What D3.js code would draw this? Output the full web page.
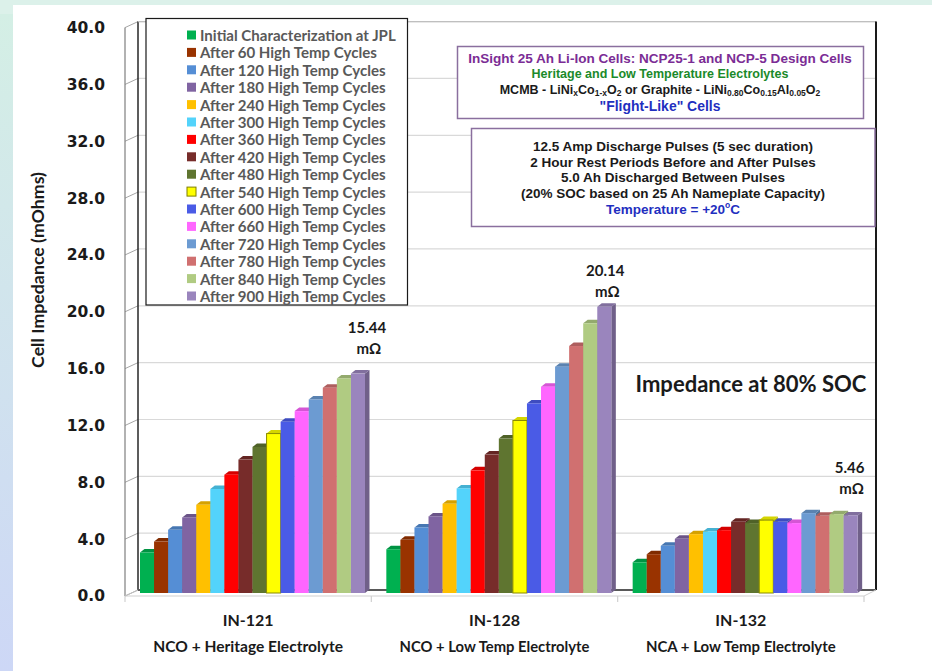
<!DOCTYPE html>
<html>
<head>
<meta charset="utf-8">
<script src="https://cdn.jsdelivr.net/npm/d3@7"></script>
<style>
  body { margin: 0; background: #fff; }
  svg { display: block; }
</style>
</head>
<body>
<script>
// data
var categories = ["IN-121", "IN-128", "IN-132"];
var subtitles = ["NCO + Heritage Electrolyte", "NCO + Low Temp Electrolyte", "NCA + Low Temp Electrolyte"];
var series = ["Initial Characterization at JPL", "After 60 High Temp Cycles", "After 120 High Temp Cycles",
  "After 180 High Temp Cycles", "After 240 High Temp Cycles", "After 300 High Temp Cycles",
  "After 360 High Temp Cycles", "After 420 High Temp Cycles", "After 480 High Temp Cycles",
  "After 540 High Temp Cycles", "After 600 High Temp Cycles", "After 660 High Temp Cycles",
  "After 720 High Temp Cycles", "After 780 High Temp Cycles", "After 840 High Temp Cycles",
  "After 900 High Temp Cycles"];
var in121 = [2.85, 3.62, 4.45, 5.32, 6.21, 7.32, 8.33, 9.39, 10.28, 11.22, 12.05, 12.8, 13.62, 14.45, 15.1, 15.44];
var in128 = [3.08, 3.74, 4.61, 5.39, 6.28, 7.36, 8.63, 9.74, 10.87, 12.14, 13.34, 14.52, 15.93, 17.38, 18.98, 20.14];
var in132 = [2.16, 2.73, 3.32, 3.81, 4.14, 4.33, 4.42, 5.01, 4.92, 5.13, 5.01, 4.92, 5.62, 5.43, 5.55, 5.46];
var peakLabels = ["15.44", "20.14", "5.46"];
var yTicks = [0, 4, 8, 12, 16, 20, 24, 28, 32, 36, 40];

var colors = ["#00b050", "#993300", "#558ed5", "#8064a2", "#ffc000", "#53d3fb", "#ff0000", "#772c2a",
  "#5f7530", "#ffff00", "#4a5be6", "#ff66ff", "#6c9bd2", "#d07070", "#b0cb82", "#9a85bd"];

var values = [in121, in128, in132];

var W = 932, H = 671;
var svg = d3.select("body").append("svg").attr("width", W).attr("height", H);

// background strips
var defs = svg.append("defs");
var grad = defs.append("linearGradient").attr("id", "strip").attr("x1", 0).attr("y1", 0).attr("x2", 0).attr("y2", 1);
grad.append("stop").attr("offset", "0%").attr("stop-color", "#d4efe5");
grad.append("stop").attr("offset", "100%").attr("stop-color", "#cdd7f6");
svg.append("rect").attr("width", W).attr("height", H).attr("fill", "#dcf1ea");
svg.append("rect").attr("x", 0).attr("y", 14).attr("width", 13).attr("height", H - 14).attr("fill", "url(#strip)");
svg.append("rect").attr("x", 13).attr("y", 5).attr("width", W - 13).attr("height", H - 5).attr("fill", "#fff");

// 3D planes: front (axis labels), bar plane, back wall
var yFront = d3.scaleLinear().domain([0, 40]).range([596, 27.6]);
var yBar = d3.scaleLinear().domain([0, 40]).range([593, 24.6]);
var yBack = d3.scaleLinear().domain([0, 40]).range([590, 21.6]);
var frontL = 125, frontR = 864, backL = 138, backR = 876;

var xFront = d3.scaleBand().domain(categories).range([frontL, frontR]);
var xBar = d3.scaleBand().domain(categories).range([131.5, 870.5]);
var xInner = d3.scaleBand().domain(series).range([8.5, 8.5 + 225]);
var bw = xInner.bandwidth();
var ddx = 4.5, ddy = -3.5; // bar depth

// back wall gridlines
svg.append("g").selectAll("line").data(yTicks.slice(1)).join("line")
  .attr("x1", backL).attr("x2", backR)
  .attr("y1", d => yBack(d)).attr("y2", d => yBack(d))
  .attr("stroke", "#d9d9d9").attr("stroke-width", 1.2);
// left wall gridlines
svg.append("g").selectAll("line").data(yTicks).join("line")
  .attr("x1", frontL).attr("x2", backL)
  .attr("y1", d => yFront(d)).attr("y2", d => yBack(d))
  .attr("stroke", "#a6a6a6").attr("stroke-width", 1);

// walls outline
svg.append("line").attr("x1", frontL).attr("x2", frontL).attr("y1", yFront(40)).attr("y2", yFront(0))
  .attr("stroke", "#7f7f7f").attr("stroke-width", 1.2);
svg.append("line").attr("x1", backL).attr("x2", backL).attr("y1", yBack(40)).attr("y2", yBack(0))
  .attr("stroke", "#262626").attr("stroke-width", 1.5);
svg.append("line").attr("x1", backL).attr("x2", backR).attr("y1", yBack(40)).attr("y2", yBack(40))
  .attr("stroke", "#bfbfbf").attr("stroke-width", 1.2);
svg.append("line").attr("x1", backR).attr("x2", backR).attr("y1", yBack(40)).attr("y2", yBack(0))
  .attr("stroke", "#1a1a1a").attr("stroke-width", 2);
svg.append("line").attr("x1", backL).attr("x2", backR).attr("y1", yBack(0)).attr("y2", yBack(0))
  .attr("stroke", "#595959").attr("stroke-width", 2);
svg.append("line").attr("x1", frontR).attr("x2", backR).attr("y1", yFront(0)).attr("y2", yBack(0))
  .attr("stroke", "#d0d0d0").attr("stroke-width", 1);

// bars
var groups = svg.append("g").selectAll("g").data(categories).join("g")
  .attr("transform", d => "translate(" + xBar(d) + ",0)");
groups.each(function(cat, ci) {
  var g = d3.select(this);
  var vals = values[ci];
  var bars = g.selectAll("g").data(vals).join("g");
  bars.each(function(v, i) {
    var b = d3.select(this);
    var x0 = xInner(series[i]), x1 = x0 + bw, yt = yBar(v), y0 = yBar(0);
    var c = d3.color(colors[i]);
    b.append("polygon")
      .attr("points", [[x1, yt], [x1 + ddx, yt + ddy], [x1 + ddx, y0 + ddy], [x1, y0]].join(" "))
      .attr("fill", c.darker(0.9));
    b.append("polygon")
      .attr("points", [[x0, yt], [x0 + ddx, yt + ddy], [x1 + ddx, yt + ddy], [x1, yt]].join(" "))
      .attr("fill", c.darker(0.5));
    b.append("rect")
      .attr("x", x0).attr("y", yt).attr("width", bw).attr("height", y0 - yt)
      .attr("fill", colors[i])
      .attr("stroke", i == 9 ? "#8a8a00" : "none").attr("stroke-width", 1);
  });
});

// front floor edge with ticks
svg.append("line").attr("x1", frontL).attr("x2", frontR).attr("y1", yFront(0)).attr("y2", yFront(0))
  .attr("stroke", "#d0d0d0").attr("stroke-width", 1.2);
svg.append("line").attr("x1", frontL).attr("x2", backL).attr("y1", yFront(0)).attr("y2", yBack(0))
  .attr("stroke", "#bfbfbf").attr("stroke-width", 1);
svg.append("g").selectAll("line").data(categories.map(d => xFront(d)).concat([frontR])).join("line")
  .attr("x1", d => d).attr("x2", d => d).attr("y1", yFront(0)).attr("y2", yFront(0) + 6)
  .attr("stroke", "#d0d0d0").attr("stroke-width", 1.2);

// fit font size to a target width
function fit(sel, w) {
  sel.each(function() {
    var t = d3.select(this);
    var fs = parseFloat(t.style("font-size"));
    var len = this.getComputedTextLength();
    t.style("font-size", (fs * w / len) + "px");
  });
}

// y axis labels
var yAxis = d3.axisLeft(yFront).tickValues(yTicks).tickFormat(d3.format(".1f")).tickSize(0).tickPadding(0);
var gy = svg.append("g").attr("transform", "translate(105,0)").call(yAxis);
gy.select(".domain").remove();
gy.selectAll("text")
  .style("font-family", "'DejaVu Sans', Verdana, sans-serif")
  .style("font-weight", "bold").style("font-size", "15.5px").attr("fill", "#1a1a1a");

svg.append("text")
  .attr("transform", "translate(37,270) rotate(-90)")
  .attr("text-anchor", "middle").attr("dominant-baseline", "central")
  .style("font-family", "Lato, 'Open Sans', sans-serif").style("font-weight", "bold").style("font-size", "19px")
  .attr("fill", "#1a1a1a")
  .text("Cell Impedance (mOhms)")
  .call(fit, 196);

// category labels
svg.append("g").selectAll("text").data(categories).join("text")
  .attr("x", d => xFront(d) + xFront.bandwidth() / 2).attr("y", 619)
  .attr("text-anchor", "middle").attr("dominant-baseline", "central")
  .style("font-family", "Lato, 'Open Sans', sans-serif").style("font-weight", "bold").style("font-size", "17px")
  .attr("fill", "#1a1a1a").text(d => d)
  .call(fit, 51);
svg.append("g").selectAll("text").data(subtitles).join("text")
  .attr("x", (d, i) => xFront(categories[i]) + xFront.bandwidth() / 2).attr("y", 646)
  .attr("text-anchor", "middle").attr("dominant-baseline", "central")
  .style("font-family", "Lato, 'Open Sans', sans-serif").style("font-weight", "bold").style("font-size", "13px")
  .attr("fill", "#1a1a1a").text(d => d)
  .call(fit, 190);

// legend
var legend = svg.append("g");
legend.append("rect").attr("x", 146).attr("y", 18.5).attr("width", 261.5).attr("height", 286.5)
  .attr("fill", "#fff").attr("stroke", "#1a1a1a").attr("stroke-width", 1.2);
var rows = legend.selectAll("g").data(series).join("g")
  .attr("transform", (d, i) => "translate(0," + (35 + i * 17.4) + ")");
rows.append("rect").attr("x", 187).attr("y", -4.5).attr("width", 9).attr("height", 9)
  .attr("fill", (d, i) => colors[i])
  .attr("stroke", (d, i) => i == 9 ? "#7f7f00" : "none");
var ltext = rows.append("text").attr("x", 200).attr("dominant-baseline", "central")
  .style("font-family", "Lato, 'Open Sans', sans-serif").style("font-weight", "bold").style("font-size", "14px")
  .attr("fill", "#595959").text(d => d);
fit(d3.select(ltext.nodes()[0]), 196);
ltext.style("font-size", d3.select(ltext.nodes()[0]).style("font-size"));

// info box 1
svg.append("rect").attr("x", 457.5).attr("y", 46.5).attr("width", 406).attr("height", 72)
  .attr("fill", "#fff").attr("stroke", "#8a6f9e").attr("stroke-width", 1.5);
var arial = "'Liberation Sans', Arial, sans-serif";
function infoLine(x, y, color) {
  return svg.append("text").attr("x", x).attr("y", y)
    .attr("text-anchor", "middle").attr("dominant-baseline", "central")
    .style("font-family", arial).style("font-weight", "bold").style("font-size", "12px")
    .attr("fill", color);
}
infoLine(660, 58.5, "#7b2c95").text("InSight 25 Ah Li-Ion Cells: NCP25-1 and NCP-5 Design Cells").call(fit, 384);
infoLine(660, 74, "#1a8a2a").text("Heritage and Low Temperature Electrolytes").call(fit, 257);
var chem = infoLine(660, 90, "#1a1a1a").style("font-size", "12.5px");
[["MCMB - LiNi", 0], ["x", 1], ["Co", 0], ["1-x", 1], ["O", 0], ["2", 1], [" or Graphite - LiNi", 0], ["0.80", 1],
 ["Co", 0], ["0.15", 1], ["Al", 0], ["0.05", 1], ["O", 0], ["2", 1]].forEach(function(p, i, arr) {
  var t = chem.append("tspan").text(p[0]);
  if (p[1]) t.style("font-size", "8.5px").attr("dy", 3);
  else if (i > 0 && arr[i - 1][1]) t.attr("dy", -3);
});
infoLine(660, 106, "#1f2fc0").text("\"Flight-Like\"  Cells").call(fit, 121);

// info box 2
svg.append("rect").attr("x", 471.5).attr("y", 128.5).attr("width", 403.5).attr("height", 98)
  .attr("fill", "#fff").attr("stroke", "#8a6f9e").attr("stroke-width", 1.5);
var box2 = ["12.5 Amp Discharge Pulses (5 sec duration)", "2 Hour Rest Periods Before and After Pulses",
  "5.0 Ah Discharged Between Pulses", "(20% SOC based on 25 Ah Nameplate Capacity)"];
box2.forEach(function(s, i) {
  infoLine(673, 146.5 + i * 15.5, "#1a1a1a").text(s).style("font-size", "13.5px");
});
var temp = infoLine(673, 208.5, "#1f2fc0").style("font-size", "13.5px");
temp.append("tspan").text("Temperature = +20");
temp.append("tspan").text("o").style("font-size", "8.5px").attr("dy", -4);
temp.append("tspan").text("C").attr("dy", 4);

// headline text
svg.append("text").attr("x", 751).attr("y", 383)
  .attr("text-anchor", "middle").attr("dominant-baseline", "central")
  .style("font-family", "Lato, 'Open Sans', sans-serif").style("font-weight", "bold").style("font-size", "22px")
  .attr("fill", "#1a1a1a").text("Impedance at 80% SOC").call(fit, 231);

// peak value annotations
var peakOff = [{dx: 9, dy: -47}, {dx: 1, dy: -37}, {dx: -1, dy: -48}];
categories.forEach(function(cat, ci) {
  var last = series.length - 1;
  var x = xBar(cat) + xInner(series[last]) + bw / 2 + peakOff[ci].dx;
  var y = yBar(values[ci][last]) + peakOff[ci].dy;
  svg.append("text").attr("x", x).attr("y", y)
    .attr("text-anchor", "middle").attr("dominant-baseline", "central")
    .style("font-family", "Lato, 'Open Sans', sans-serif").style("font-weight", "bold").style("font-size", "15px")
    .attr("fill", "#1a1a1a").text(peakLabels[ci]);
  svg.append("text").attr("x", x + 2).attr("y", y + 21)
    .attr("text-anchor", "middle").attr("dominant-baseline", "central")
    .style("font-family", "Lato, 'DejaVu Sans', sans-serif").style("font-weight", "bold").style("font-size", "15px")
    .attr("fill", "#1a1a1a").text("m\u03a9");
});
</script>
</body>
</html>
